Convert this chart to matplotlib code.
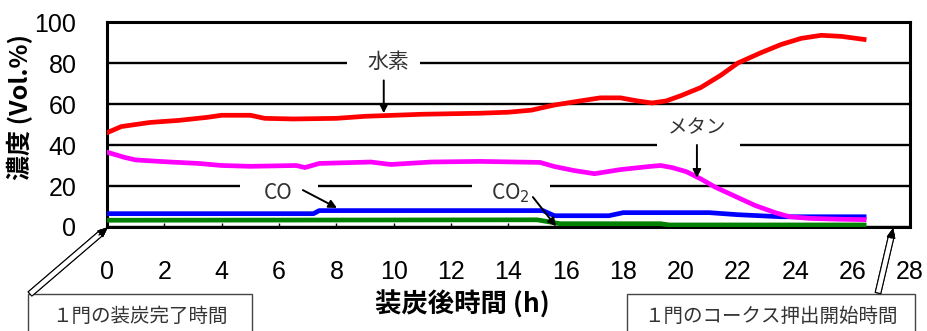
import matplotlib
matplotlib.use("Agg")
import matplotlib.pyplot as plt
from matplotlib.patches import Rectangle

plt.rcParams['font.family'] = ['Liberation Sans', 'Noto Sans CJK JP', 'DejaVu Sans']

# hydrogen (red)
t_h2 = [0, 0.5, 1, 1.5, 2.5, 3.5, 4, 5, 5.5, 6.5, 8, 9, 10, 11, 13, 14, 14.8,
        15.6, 16.5, 17.2, 17.9, 18.5, 19.0, 19.5, 20.0, 20.7, 21.4, 22.0, 22.8,
        23.5, 24.2, 24.9, 25.6, 26.4]
h2 = [46, 49, 50, 51, 52, 53.5, 54.5, 54.5, 53, 52.7, 53, 54, 54.5, 55, 55.5, 56,
      57, 59.5, 61.5, 63, 63, 61.5, 60.5, 61.5, 64, 68, 74, 80, 85, 89, 92,
      93.5, 93, 91.5]

# methane (magenta)
t_ch4 = [0, 0.6, 1, 2.2, 3.2, 4, 5, 6.6, 6.9, 7.4, 9.2, 9.9, 11.3, 13, 15.1, 15.6,
         16.3, 17, 17.9, 18.9, 19.3, 19.7, 20.2, 20.7, 21.2, 21.9, 22.6, 23.3,
         23.8, 24.5, 25.5, 26.4]
ch4 = [36.5, 34, 32.7, 31.7, 31, 30, 29.6, 30, 29, 31, 31.7, 30.5, 31.7, 32, 31.5,
       29.5, 27.5, 26, 28, 29.5, 30, 29, 27, 23.5, 19.5, 15, 10.5, 7, 5, 4.2,
       3.8, 3.6]

# CO (blue)
t_co = [0, 7.2, 7.4, 15.2, 15.6, 17.5, 18, 21, 22, 23.5, 26.4]
co = [6.5, 6.5, 8, 8, 5.5, 5.5, 7, 7, 6, 5, 5]

# CO2 (green)
t_co2 = [0, 15.0, 15.8, 19.3, 19.6, 26.4]
co2 = [3.3, 3.5, 1.6, 1.6, 1.0, 1.0]

x_ticks = list(range(0, 29, 2))
y_ticks = [0, 20, 40, 60, 80, 100]

W, H = 928, 331
fig = plt.figure(figsize=(W / 100, H / 100), dpi=100)
ax = fig.add_axes([107 / W, 104 / H, 803 / W, 205 / H])

ax.set_xlim(0, 28)
ax.set_ylim(0, 100)
ax.set_xticks(x_ticks)
ax.set_yticks(y_ticks)
ax.set_axisbelow(True)
ax.grid(axis='y', color='black', linewidth=1.7)
ax.grid(axis='x', visible=False)
for s in ax.spines.values():
    s.set_linewidth(2.2)
ax.tick_params(axis='x', direction='in', length=3, width=1, pad=24, labelsize=18)
ax.tick_params(axis='y', length=0, pad=22, labelsize=18)

lw = 3.4
ax.plot(t_co2, co2, color='#008000', lw=lw, zorder=3)
ax.plot(t_co, co, color='#0000ff', lw=lw, zorder=4)
ax.plot(t_ch4, ch4, color='#ff00ff', lw=lw, zorder=5)
ax.plot(t_h2, h2, color='#ff0000', lw=lw, zorder=6)

# white gaps in the grid behind the labels
for x0, x1, yy in [(8.37, 10.91, 80), (19.18, 22.07, 40), (4.64, 7.36, 20), (12.73, 15.45, 20)]:
    ax.add_patch(Rectangle((x0, yy - 2), x1 - x0, 4, facecolor='white', edgecolor='none', zorder=1))

cjk = ['Noto Sans CJK JP', 'DejaVu Sans']
lab = dict(color='#333333', ha='center', va='center', family=cjk, zorder=7)
ax.text(9.8, 80.5, '水素', fontsize=15, **lab)
ax.text(20.57, 48.3, 'メタン', fontsize=14, **lab)
ax.text(5.96, 16.6, 'CO', fontsize=15, **lab)
ax.text(14.05, 16.6, 'CO$_2$', fontsize=15, **lab)

arr = dict(arrowstyle='-|>', color='black', lw=1.4, mutation_scale=12, shrinkA=0, shrinkB=0)
ax.annotate('', xy=(9.65, 55.5), xytext=(9.65, 71.5), arrowprops=arr, zorder=8)
ax.annotate('', xy=(20.57, 24), xytext=(20.57, 40), arrowprops=arr, zorder=8)
ax.annotate('', xy=(8.02, 9.3), xytext=(6.83, 18), arrowprops=arr, zorder=8)
ax.annotate('', xy=(15.66, 0.3), xytext=(14.85, 14.6), arrowprops=arr, zorder=8)

# axis titles
fig.text(20 / W, 1 - 107 / H, '濃度 (Vol.%)', rotation=90, ha='center', va='center',
         fontsize=18, fontweight='bold', family=cjk)
fig.text(462 / W, 1 - 305 / H, '装炭後時間 (h)', ha='center', va='center',
         fontsize=19, fontweight='bold', family=cjk)

# callout boxes at the bottom
def fpt(px, py):
    return (px / W, 1 - py / H)

for x0, x1, txt in [(28, 252, '１門の装炭完了時間'), (627, 915, '１門のコークス押出開始時間')]:
    fig.add_artist(Rectangle(fpt(x0, 340), (x1 - x0) / W, 46 / H, transform=fig.transFigure,
                             facecolor='white', edgecolor='#444444', lw=1))
    fig.text((x0 + x1) / 2 / W, 1 - 316 / H, txt, ha='center', va='center',
             fontsize=14, color='#333333', family=cjk)

hollow = dict(arrowstyle='simple,head_length=0.6,head_width=0.5,tail_width=0.45',
              fc='white', ec='black', lw=0.8, mutation_scale=9, shrinkA=0, shrinkB=0)
head = dict(arrowstyle='-|>', color='black', lw=1, mutation_scale=13, shrinkA=0, shrinkB=0)
for tail, tip, near in [((30, 294), (107, 228), (99, 235)), ((878, 293), (893, 229), (891, 238))]:
    fig.add_artist(plt.annotate('', xy=fpt(*tip), xytext=fpt(*tail), xycoords='figure fraction',
                                textcoords='figure fraction', arrowprops=hollow))
    fig.add_artist(plt.annotate('', xy=fpt(*tip), xytext=fpt(*near), xycoords='figure fraction',
                                textcoords='figure fraction', arrowprops=head))

fig.savefig('out.png', dpi=100)
